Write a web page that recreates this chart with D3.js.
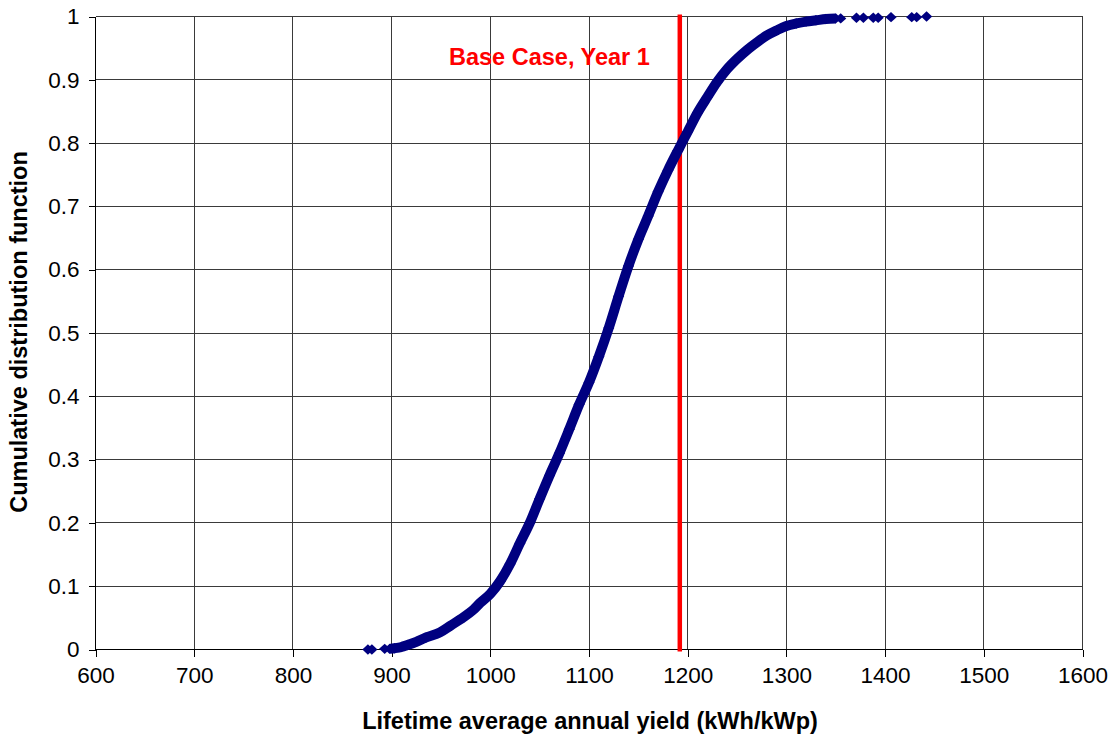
<!DOCTYPE html>
<html lang="en">
<head>
<meta charset="UTF-8">
<title>CDF of lifetime yield</title>
<script src="https://d3js.org/d3.v7.min.js"></script>
<style>
  body { margin: 0; background: #fff; }
  text { font-family: Arial, "Liberation Sans", sans-serif; }
  .grid line { stroke: #3a3a3a; stroke-width: 1px; shape-rendering: crispEdges; }
</style>
</head>
<body>
<svg id="canvas" width="1112" height="738"></svg>
<script>
  // yield values (kWh/kWp) and cumulative probability
  var yieldVals = [876, 880, 893, 898, 903, 910, 916, 925, 935, 949, 960, 970, 983, 990,
    1000, 1010, 1020, 1030, 1040, 1050, 1060, 1070, 1080, 1090, 1100, 1110, 1120, 1130,
    1140, 1150, 1160, 1170, 1180, 1190, 1200, 1210, 1220, 1230, 1240, 1250, 1260, 1270,
    1280, 1290, 1300, 1310, 1320, 1330, 1340, 1350];
  var cdfVals = [0.000, 0.000, 0.001, 0.001, 0.002, 0.004, 0.007, 0.012, 0.019, 0.027, 0.038, 0.048, 0.063, 0.074,
    0.088, 0.108, 0.135, 0.168, 0.200, 0.238, 0.275, 0.310, 0.348, 0.387, 0.422, 0.463, 0.508, 0.558,
    0.606, 0.648, 0.685, 0.723, 0.757, 0.788, 0.818, 0.848, 0.873, 0.897, 0.917, 0.933, 0.947, 0.959,
    0.970, 0.978, 0.985, 0.989, 0.992, 0.994, 0.996, 0.997];
  // isolated points in the upper tail
  var tailYield = [1355, 1371, 1378, 1388, 1393, 1406, 1427, 1432, 1442];
  var tailCdf = [0.997, 0.998, 0.998, 0.998, 0.998, 0.999, 0.999, 0.999, 1.000];

  var baseCase = 1192;
  var baseLabel = "Base Case, Year 1";
  var xTicks = [600, 700, 800, 900, 1000, 1100, 1200, 1300, 1400, 1500, 1600];
  var yTicks = [0, 0.1, 0.2, 0.3, 0.4, 0.5, 0.6, 0.7, 0.8, 0.9, 1];

  var svg = d3.select("svg");
  var plotL = 95.5, plotR = 1082.5, plotT = 16.5, plotB = 649.5;

  var x = d3.scaleLinear().domain([600, 1600]).range([plotL, plotR]);
  var y = d3.scaleLinear().domain([0, 1]).range([plotB, plotT]);

  // gridlines
  var grid = svg.append("g").attr("class", "grid");
  grid.selectAll(".v").data(xTicks.slice(1)).enter().append("line")
    .attr("x1", function(d) { return x(d); }).attr("x2", function(d) { return x(d); })
    .attr("y1", plotT).attr("y2", plotB);
  grid.selectAll(".h").data(yTicks.slice(1)).enter().append("line")
    .attr("x1", plotL).attr("x2", plotR)
    .attr("y1", function(d) { return y(d); }).attr("y2", function(d) { return y(d); });

  // axes
  var xAxis = d3.axisBottom(x).tickValues(xTicks).tickSize(7).tickPadding(11)
    .tickFormat(d3.format("d"));
  var yAxis = d3.axisLeft(y).tickValues(yTicks).tickSize(7).tickPadding(9)
    .tickFormat(function(d) { return d === 0 || d === 1 ? d : d3.format(".1f")(d); });

  var gx = svg.append("g").attr("transform", "translate(0," + plotB + ")").call(xAxis);
  var gy = svg.append("g").attr("transform", "translate(" + plotL + ",0)").call(yAxis);
  [gx, gy].forEach(function(g) {
    g.select(".domain").attr("stroke", "#000").attr("shape-rendering", "crispEdges");
    g.selectAll(".tick line").attr("stroke", "#000").attr("shape-rendering", "crispEdges");
    g.selectAll("text").attr("font-size", 22.5).attr("fill", "#000")
      .attr("font-family", "Arial, 'Liberation Sans', sans-serif");
  });
  gx.select(".domain").attr("d", "M" + plotL + ",0H" + plotR);
  gy.select(".domain").attr("d", "M0," + plotT + "V" + plotB);

  // base case line
  svg.append("line")
    .attr("x1", x(baseCase)).attr("x2", x(baseCase))
    .attr("y1", y(1) - 2).attr("y2", y(0) + 2)
    .attr("stroke", "#ff0000").attr("stroke-width", 4.5);
  svg.append("text")
    .attr("x", x(baseCase) - 30).attr("y", 65)
    .attr("text-anchor", "end")
    .attr("font-size", 23.5).attr("font-weight", "bold").attr("fill", "#ff0000")
    .text(baseLabel);

  // the CDF points
  var pts = yieldVals.map(function(v, i) { return [v, cdfVals[i]]; });
  var tail = tailYield.map(function(v, i) { return [v, tailCdf[i]]; });
  var navy = "#000080";

  var line = d3.line()
    .x(function(d) { return x(d[0]); })
    .y(function(d) { return y(d[1]); })
    .curve(d3.curveMonotoneX);
  svg.append("path").datum(pts.slice(3))
    .attr("d", line).attr("fill", "none")
    .attr("stroke", navy).attr("stroke-width", 10).attr("stroke-linejoin", "round");

  var diamond = "M0,-5.2L5.6,0L0,5.2L-5.6,0Z";
  svg.selectAll(".pt").data(pts.concat(tail)).enter().append("path")
    .attr("class", "pt")
    .attr("d", diamond)
    .attr("fill", navy)
    .attr("transform", function(d) { return "translate(" + x(d[0]) + "," + y(d[1]) + ")"; });

  // axis titles
  svg.append("text")
    .attr("x", 590).attr("y", 729)
    .attr("text-anchor", "middle")
    .attr("font-size", 23.5).attr("font-weight", "bold")
    .text("Lifetime average annual yield (kWh/kWp)");
  svg.append("text")
    .attr("transform", "translate(27," + 332 + ") rotate(-90)")
    .attr("text-anchor", "middle")
    .attr("font-size", 23.5).attr("font-weight", "bold")
    .text("Cumulative distribution function");
</script>
</body>
</html>
